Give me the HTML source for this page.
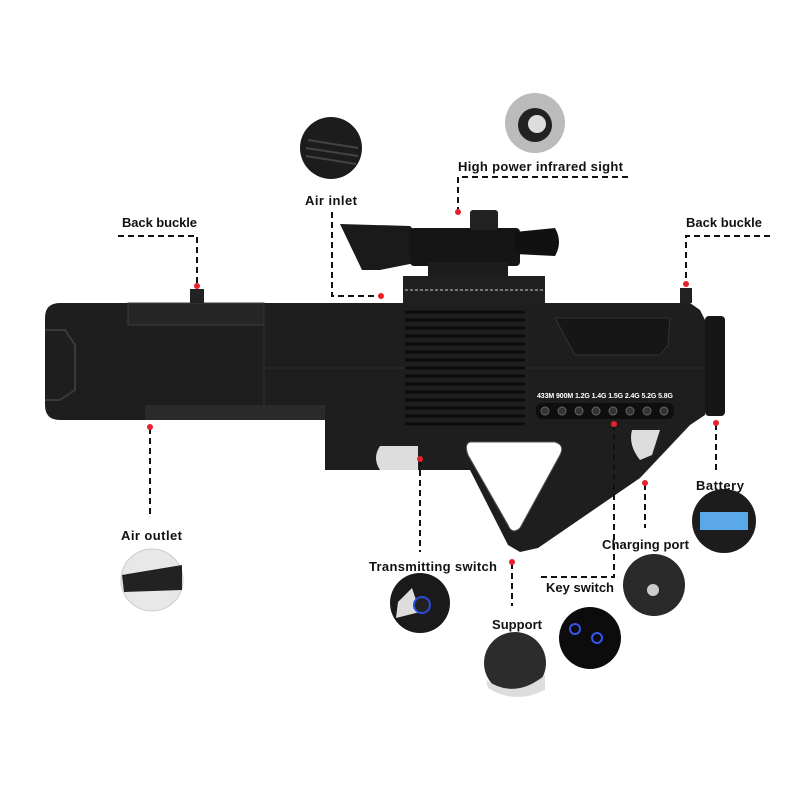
<!DOCTYPE html>
<html><head><meta charset="utf-8"><style>
html,body{margin:0;padding:0;background:#fff}
svg{display:block}
text{font-family:"Liberation Sans Narrow","Liberation Sans",sans-serif;font-weight:bold;font-size:13px;fill:#111}
.d{stroke:#111;stroke-width:2;stroke-dasharray:6 4;fill:none}
.r{fill:#e8202a}
</style></head><body>
<svg width="800" height="800" viewBox="0 0 800 800">
<!-- scope -->
<path d="M340 224 L410 226 L420 236 L420 262 L380 270 L362 270 Z" fill="#1a1a1a"/>
<rect x="410" y="228" width="110" height="38" rx="4" fill="#151515"/>
<rect x="470" y="210" width="28" height="20" rx="3" fill="#222"/>
<path d="M515 232 L555 228 Q563 242 555 256 L515 254 Z" fill="#111"/>
<rect x="428" y="262" width="80" height="14" fill="#1c1c1c"/>
<!-- rail mount -->
<path d="M403 303 L403 276 L545 276 L545 303 Z" fill="#202020"/>
<line x1="405" y1="290" x2="543" y2="290" stroke="#777" stroke-width="2" stroke-dasharray="3 2"/>
<!-- body -->
<path d="M50 303 L690 303 L700 310 L705 320 L705 415 L690 425 L640 478 L538 548 L520 552 L508 545 L470 470 L325 470 L325 420 L60 420 Q45 420 45 405 L45 318 Q45 303 60 303 Z" fill="#1e1e1e"/>
<path d="M45 330 L65 330 L75 345 L75 390 L60 400 L45 400" fill="none" stroke="#3a3a3a" stroke-width="2"/>
<rect x="128" y="303" width="136" height="22" fill="#262626" stroke="#3c3c3c"/>
<line x1="264" y1="303" x2="264" y2="405" stroke="#333"/>
<line x1="264" y1="368" x2="705" y2="368" stroke="#2c2c2c"/>
<rect x="145" y="405" width="180" height="15" fill="#2a2a2a"/>
<path d="M555 318 L670 318 L668 345 L660 355 L575 355 Z" fill="#161616" stroke="#333"/>
<!-- battery -->
<rect x="705" y="316" width="20" height="100" rx="4" fill="#161616"/>
<!-- vents -->
<g stroke="#0c0c0c" stroke-width="3">
<line x1="405" y1="312" x2="525" y2="312"/><line x1="405" y1="320" x2="525" y2="320"/><line x1="405" y1="328" x2="525" y2="328"/><line x1="405" y1="336" x2="525" y2="336"/><line x1="405" y1="344" x2="525" y2="344"/><line x1="405" y1="352" x2="525" y2="352"/><line x1="405" y1="360" x2="525" y2="360"/><line x1="405" y1="368" x2="525" y2="368"/><line x1="405" y1="376" x2="525" y2="376"/><line x1="405" y1="384" x2="525" y2="384"/><line x1="405" y1="392" x2="525" y2="392"/><line x1="405" y1="400" x2="525" y2="400"/><line x1="405" y1="408" x2="525" y2="408"/><line x1="405" y1="416" x2="525" y2="416"/><line x1="405" y1="424" x2="525" y2="424"/>
</g>
<text x="537" y="398" style="font-size:7px;fill:#fff" textLength="136">433M 900M 1.2G 1.4G 1.5G 2.4G 5.2G 5.8G</text>
<rect x="536" y="403" width="138" height="16" rx="6" fill="#0e0e0e"/>
<g fill="#333" stroke="#666"><circle cx="545" cy="411" r="4"/><circle cx="562" cy="411" r="4"/><circle cx="579" cy="411" r="4"/><circle cx="596" cy="411" r="4"/><circle cx="613" cy="411" r="4"/><circle cx="630" cy="411" r="4"/><circle cx="647" cy="411" r="4"/><circle cx="664" cy="411" r="4"/></g>
<!-- holes -->
<path d="M380 446 L418 446 L418 470 L380 470 Q372 458 380 446 Z" fill="#ddd"/>
<path d="M470 442 L555 442 Q565 445 560 455 L520 528 Q512 535 508 525 L468 455 Q464 444 470 442 Z" fill="#fff" stroke="#555"/>
<path d="M632 430 L660 430 L652 455 L640 460 Q628 445 632 430 Z" fill="#ddd"/>
<!-- buckles -->
<rect x="190" y="289" width="14" height="14" fill="#222"/>
<rect x="680" y="288" width="12" height="15" fill="#222"/>
<!-- insets -->
<circle cx="331" cy="148" r="31" fill="#1c1c1c"/>
<g stroke="#444" stroke-width="2"><line x1="308" y1="140" x2="358" y2="148"/><line x1="306" y1="148" x2="358" y2="156"/><line x1="306" y1="156" x2="356" y2="164"/></g>
<circle cx="535" cy="123" r="30" fill="#bbb"/><circle cx="535" cy="125" r="17" fill="#222"/><circle cx="537" cy="124" r="9" fill="#ddd"/>
<circle cx="724" cy="521" r="32" fill="#1c1c1c"/><rect x="700" y="512" width="48" height="18" fill="#5aa8e8"/>
<circle cx="152" cy="580" r="31" fill="#e8e8e8" stroke="#ccc"/><path d="M122 575 L182 565 L182 590 L124 592 Z" fill="#222"/>
<circle cx="420" cy="603" r="30" fill="#1a1a1a"/><path d="M398 602 L412 588 L420 612 L396 618 Z" fill="#ddd"/><circle cx="422" cy="605" r="8" fill="#222" stroke="#2a4bd8" stroke-width="2"/>
<circle cx="654" cy="585" r="31" fill="#2a2a2a"/><circle cx="653" cy="590" r="6" fill="#ccc"/>
<circle cx="590" cy="638" r="31" fill="#0c0c0c"/><circle cx="575" cy="629" r="5" fill="none" stroke="#3455ee" stroke-width="2"/><circle cx="597" cy="638" r="5" fill="none" stroke="#3455ee" stroke-width="2"/>
<circle cx="515" cy="663" r="31" fill="#2c2c2c"/><path d="M486 680 Q515 700 545 675 L545 690 Q515 705 488 688 Z" fill="#ddd"/>
<!-- labels -->
<text x="458" y="171" textLength="165">High power infrared sight</text>
<text x="305" y="205" textLength="52">Air inlet</text>
<text x="122" y="227" textLength="75">Back buckle</text>
<text x="686" y="227" textLength="76">Back buckle</text>
<text x="121" y="540" textLength="61">Air outlet</text>
<text x="369" y="571" textLength="128">Transmitting switch</text>
<text x="696" y="490" textLength="48">Battery</text>
<text x="602" y="549" textLength="87">Charging port</text>
<text x="546" y="592" textLength="68">Key switch</text>
<text x="492" y="629" textLength="50">Support</text>
<!-- connectors -->
<path class="d" d="M628 177 L458 177 L458 210"/>
<path class="d" d="M332 212 L332 296 L380 296"/>
<path class="d" d="M118 236 L197 236 L197 285"/>
<path class="d" d="M770 236 L686 236 L686 283"/>
<path class="d" d="M150 428 L150 518"/>
<path class="d" d="M420 460 L420 552"/>
<path class="d" d="M716 424 L716 472"/>
<path class="d" d="M645 484 L645 528"/>
<path class="d" d="M614 424 L614 577 L537 577"/>
<path class="d" d="M512 563 L512 606"/>
<g class="r"><circle cx="458" cy="212" r="3"/><circle cx="381" cy="296" r="3"/><circle cx="197" cy="286" r="3"/><circle cx="686" cy="284" r="3"/><circle cx="150" cy="427" r="3"/><circle cx="420" cy="459" r="3"/><circle cx="716" cy="423" r="3"/><circle cx="645" cy="483" r="3"/><circle cx="614" cy="424" r="3"/><circle cx="512" cy="562" r="3"/></g>
</svg>
</body></html>
